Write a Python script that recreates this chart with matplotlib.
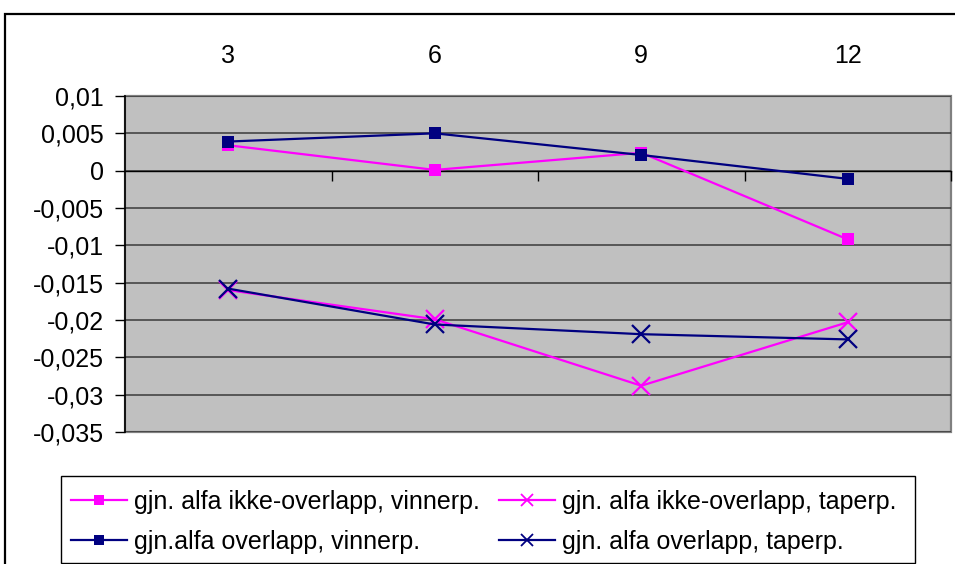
import matplotlib
matplotlib.use("Agg")
import matplotlib.pyplot as plt
from matplotlib.patches import Rectangle
from matplotlib.ticker import FuncFormatter, MultipleLocator

plt.rcParams['font.family'] = ['Liberation Sans', 'DejaVu Sans']

# Holding periods (categories) and average alpha per series
categories = ["3", "6", "9", "12"]
ikke_overlapp_vinnerp = [0.0034, 0.0001, 0.0024, -0.0092]
ikke_overlapp_taperp = [-0.0160, -0.0199, -0.0288, -0.0203]
overlapp_vinnerp = [0.0039, 0.0050, 0.0021, -0.0011]
overlapp_taperp = [-0.0158, -0.0206, -0.0219, -0.0226]

series_labels = [
    "gjn. alfa ikke-overlapp, vinnerp.",
    "gjn. alfa ikke-overlapp, taperp.",
    "gjn.alfa overlapp, vinnerp.",
    "gjn. alfa overlapp, taperp.",
]

MAGENTA = "#FF00FF"
NAVY = "#000080"
FS = 18

W, H = 955, 564
fig = plt.figure(figsize=(W / 100, H / 100), dpi=100)


def px_box(x0, y0, x1, y1):
    """Figure-fraction rectangle from pixel corners (origin top-left)."""
    return (x0 / W, 1 - y1 / H), (x1 - x0) / W, (y1 - y0) / H


# outer chart frame
xy, w, h = px_box(5, 14, 1200, 700)
fig.patches.append(Rectangle(xy, w, h, transform=fig.transFigure, fill=False,
                             edgecolor="black", linewidth=1.6))

ax = fig.add_axes([125 / W, 1 - 432 / H, 826 / W, 336 / H])
ax.set_facecolor("#C0C0C0")

x = list(range(len(categories)))
ax.set_xlim(-0.5, len(categories) - 0.5)
ax.set_ylim(-0.035, 0.01)

# horizontal gridlines
ax.yaxis.set_major_locator(MultipleLocator(0.005))
ax.grid(axis="y", color="#3A3A3A", linewidth=1.1, zorder=1)
ax.set_axisbelow(True)


def fmt(v, pos):
    if abs(v) < 1e-12:
        return "0"
    s = ("%.3f" % v).rstrip("0").rstrip(".")
    return s.replace(".", ",")


ax.yaxis.set_major_formatter(FuncFormatter(fmt))
ax.tick_params(axis="y", direction="out", length=7, width=1, pad=8,
               labelsize=FS, colors="black")

# category axis crosses at zero, ticks between categories
for side in ("top", "right"):
    ax.spines[side].set_visible(False)
ax.spines["left"].set_color("black")
ax.spines["left"].set_linewidth(1.2)
ax.spines["bottom"].set_position(("data", 0))
ax.spines["bottom"].set_color("black")
ax.spines["bottom"].set_linewidth(1.0)
ax.set_xticks([i + 0.5 for i in x])
ax.tick_params(axis="x", direction="out", length=7, width=1,
               labelbottom=False)

# plot area border
ax.add_patch(Rectangle((0, 0), 1, 1, transform=ax.transAxes, fill=False,
                       edgecolor="#808080", linewidth=1.6, zorder=0.5,
                       clip_on=False))

# category labels above the plot area
for xi, lab in zip(x, categories):
    ax.text(xi, 1.118, lab, transform=ax.get_xaxis_transform(),
            ha="center", va="center", fontsize=FS)

lw = 1.6
h1, = ax.plot(x, ikke_overlapp_vinnerp, color=MAGENTA, lw=lw, marker="s",
              markersize=8, markeredgewidth=0, label=series_labels[0], zorder=3)
h2, = ax.plot(x, ikke_overlapp_taperp, color=MAGENTA, lw=lw, marker="x",
              markersize=13, markeredgewidth=1.6, label=series_labels[1], zorder=3)
h3, = ax.plot(x, overlapp_vinnerp, color=NAVY, lw=lw, marker="s",
              markersize=8, markeredgewidth=0, label=series_labels[2], zorder=4)
h4, = ax.plot(x, overlapp_taperp, color=NAVY, lw=lw, marker="x",
              markersize=13, markeredgewidth=1.6, label=series_labels[3], zorder=4)

# legend box
xy, w, h = px_box(61, 476, 915, 563)
fig.patches.append(Rectangle(xy, w, h, transform=fig.transFigure, fill=False,
                             edgecolor="black", linewidth=1.0))

leg = fig.legend([h1, h3, h2, h4],
                 [series_labels[0], series_labels[2], series_labels[1], series_labels[3]],
                 ncol=2, loc="upper left",
                 bbox_to_anchor=(71 / W, 1 - 490 / H),
                 fontsize=FS, frameon=False,
                 borderaxespad=0, borderpad=0,
                 handlelength=2.24, handletextpad=0.28, columnspacing=0.78,
                 labelspacing=0.62)
for hd in leg.legend_handles:
    if hd.get_marker() == "s":
        hd.set_markersize(6.5)
    else:
        hd.set_markersize(8)
        hd.set_markeredgewidth(1.3)

fig.savefig("out.png", dpi=100, facecolor="white")
